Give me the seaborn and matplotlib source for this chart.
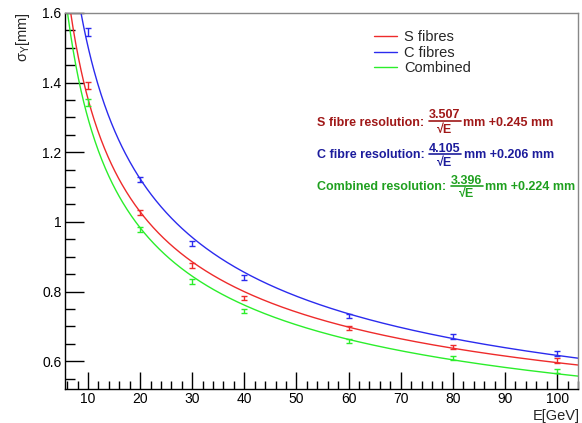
import numpy as np
import pandas as pd
import matplotlib
matplotlib.use("Agg")
import matplotlib.pyplot as plt
from matplotlib.lines import Line2D
from matplotlib.ticker import MultipleLocator, FuncFormatter
import seaborn as sns

# Beam energies [GeV]
energy = [10, 20, 30, 40, 60, 80, 100]

# Measured sigma_Y [mm] and uncertainties
sigma_s = [1.393, 1.026, 0.874, 0.782, 0.696, 0.640, 0.603]
err_s = [0.010, 0.007, 0.007, 0.006, 0.006, 0.006, 0.007]
sigma_c = [1.545, 1.123, 0.937, 0.841, 0.730, 0.671, 0.623]
err_c = [0.012, 0.007, 0.007, 0.007, 0.006, 0.006, 0.007]
sigma_comb = [1.342, 0.978, 0.829, 0.744, 0.658, 0.609, 0.572]
err_comb = [0.010, 0.006, 0.006, 0.006, 0.005, 0.005, 0.006]

# Fit parameters: sigma = a / sqrt(E) + b
fit_a = {"S fibres": 3.507, "C fibres": 4.105, "Combined": 3.396}
fit_b = {"S fibres": 0.245, "C fibres": 0.206, "Combined": 0.224}

series = ["S fibres", "C fibres", "Combined"]
line_colors = {"S fibres": "#ee2b2b", "C fibres": "#2b2bee", "Combined": "#2bee2b"}
text_colors = {"S fibres": "#a01818", "C fibres": "#1c1c9c", "Combined": "#1fa01f"}

sns.set_theme(style="white")
plt.rcParams["font.family"] = ["Liberation Sans", "DejaVu Sans"]
plt.rcParams["mathtext.fontset"] = "custom"
plt.rcParams["mathtext.rm"] = "Liberation Sans"
plt.rcParams["mathtext.it"] = "Liberation Sans"

W, H = 582, 423
fig = plt.figure(figsize=(W / 100, H / 100), dpi=100)
fig.patch.set_facecolor("white")
ax = fig.add_axes([65 / W, 1 - 389 / H, 513 / W, 376 / H])
ax.set_facecolor("white")

# Fit curves
e_grid = np.linspace(5.0, 105.0, 600)
curve_frames = []
for name in series:
    curve_frames.append(pd.DataFrame({
        "E": e_grid,
        "sigma": fit_a[name] / np.sqrt(e_grid) + fit_b[name],
        "series": name,
    }))
curves = pd.concat(curve_frames, ignore_index=True)
sns.lineplot(data=curves, x="E", y="sigma", hue="series", palette=line_colors,
             hue_order=series, linewidth=1.0, ax=ax, legend=False, sort=False)

# Measured points with error bars
for name, y, e in [("S fibres", sigma_s, err_s),
                   ("C fibres", sigma_c, err_c),
                   ("Combined", sigma_comb, err_comb)]:
    ax.errorbar(energy, y, yerr=e, fmt="none", ecolor=line_colors[name],
                elinewidth=1.0, capsize=2, capthick=1.0)

ax.set_xlim(5.6, 104)
ax.set_ylim(0.52, 1.6)
ax.set_xlabel("")
ax.set_ylabel("")

ax.xaxis.set_major_locator(MultipleLocator(10))
ax.xaxis.set_minor_locator(MultipleLocator(2))
ax.yaxis.set_major_locator(MultipleLocator(0.2))
ax.yaxis.set_minor_locator(MultipleLocator(0.05))
ax.yaxis.set_major_formatter(FuncFormatter(lambda v, p: f"{v:g}"))

ax.tick_params(axis="both", which="both", direction="in", colors="black",
               labelsize=10, top=False, right=False, bottom=True, left=True)
ax.tick_params(axis="x", which="major", direction="in", length=12, width=1.0, pad=2.5)
ax.tick_params(axis="x", which="minor", direction="in", length=6, width=1.0)
ax.tick_params(axis="y", which="major", direction="in", length=14, width=1.0, pad=2.5)
ax.tick_params(axis="y", which="minor", direction="in", length=7, width=1.0)

for side in ["left", "bottom"]:
    ax.spines[side].set_color("black")
    ax.spines[side].set_linewidth(1.0)
for side in ["top", "right"]:
    ax.spines[side].set_color("#888888")
    ax.spines[side].set_linewidth(1.0)

# Axis titles
fig.text(580 / W, 1 - 416 / H, "E[GeV]", ha="right", va="center", fontsize=10.5)
fig.text(23 / W, 1 - 12 / H, r"$\sigma_{Y}$[mm]", ha="center", va="top",
         rotation=90, fontsize=10.5)

# Legend
handles = [Line2D([0], [0], color=line_colors[n], linewidth=1.0) for n in series]
fig.legend(handles, series, loc="upper left",
           bbox_to_anchor=(374 / W, 1 - 30 / H), bbox_transform=fig.transFigure,
           frameon=False, fontsize=10.5, handlelength=1.6, handletextpad=0.45,
           labelspacing=0.12, borderpad=0, borderaxespad=0)

# Resolution formulas
def fx(px):
    return px / W

def fy(py):
    return 1 - py / H

formula_rows = [
    ("S fibres", "S fibre resolution:", 444.5, 428.7, 460.7, 463.3, 122.5, 115, 121, 130),
    ("C fibres", "C fibre resolution:", 445.0, 429.0, 460.7, 464.0, 155, 148.5, 154, 163),
    ("Combined", "Combined resolution:", 466.7, 450.7, 482.7, 485.3, 186.7, 180.5, 186, 194),
]
for name, label, num_x, bar_x0, bar_x1, suf_x, y_lab, y_num, y_bar, y_den in formula_rows:
    c = text_colors[name]
    kw = dict(color=c, fontsize=9, fontweight="bold", transform=fig.transFigure)
    fig.text(fx(317), fy(y_lab), label, ha="left", va="center", **kw)
    fig.text(fx(num_x), fy(y_num), f"{fit_a[name]:.3f}", ha="center", va="center", **kw)
    fig.add_artist(Line2D([fx(bar_x0), fx(bar_x1)], [fy(y_bar), fy(y_bar)],
                          color=c, linewidth=1.2, transform=fig.transFigure))
    fig.text(fx(num_x), fy(y_den), "\u221aE", ha="center", va="center", **kw)
    fig.text(fx(suf_x), fy(y_lab), f"mm +{fit_b[name]:.3f} mm", ha="left",
             va="center", **kw)

fig.savefig("out.png", dpi=100, facecolor="white")
